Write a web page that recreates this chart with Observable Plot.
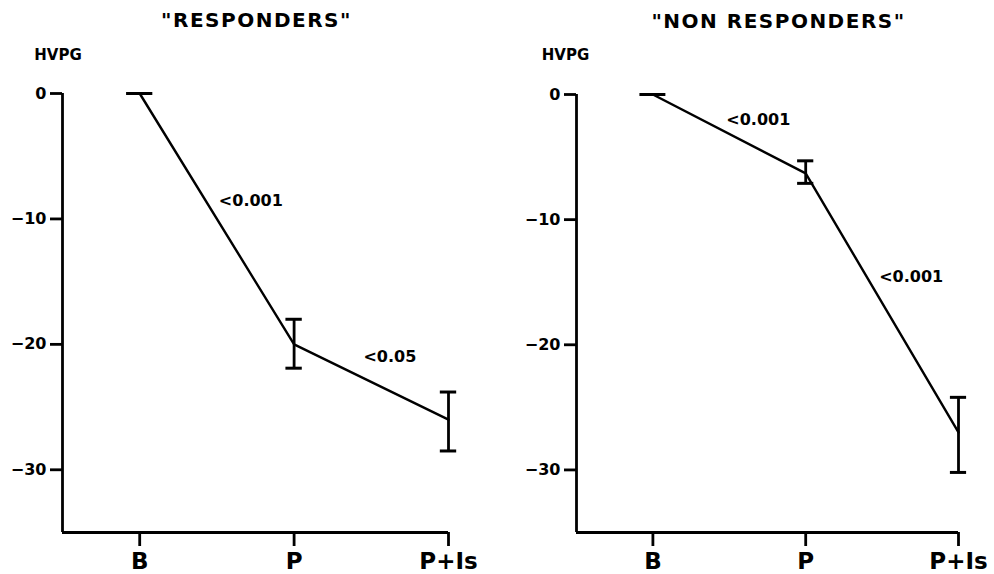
<!DOCTYPE html>
<html><head><meta charset="utf-8">
<script src="https://cdn.jsdelivr.net/npm/d3@7"></script>
<script src="https://cdn.jsdelivr.net/npm/@observablehq/plot@0.6"></script>
<style>
body{margin:0;background:#fff;}
#wrap{position:relative;width:994px;height:574px;overflow:hidden;background:#fff;}
#wrap > div{position:absolute;top:0;}
</style></head><body>
<div id="wrap"><div id="left" style="left:0px"></div><div id="right" style="left:497px"></div></div>
<script>
const categories = ["B", "P", "P+Is"];
const yTicks = [0, -10, -20, -30];

const respondersMean = [0, -20.0, -26.0];
const respondersHigh = [0, -18.0, -23.8];
const respondersLow  = [0, -21.9, -28.5];

const nonRespondersMean = [0, -6.3, -27.0];
const nonRespondersHigh = [0, -5.3, -24.2];
const nonRespondersLow  = [0, -7.1, -30.2];

const respondersPLabels = ["<0.001", "<0.05"];
const respondersPLabelX = [1.72, 2.62];
const respondersPLabelY = [-8.6, -21.0];

const nonRespondersPLabels = ["<0.001", "<0.001"];
const nonRespondersPLabelX = [1.69, 2.69];
const nonRespondersPLabelY = [-2.0, -14.6];

function table(means, highs, lows) {
  return categories.map((c, i) => ({cat: c, i: i + 1, mean: means[i], hi: highs[i], lo: lows[i]}));
}
function labelTable(texts, xs, ys) {
  return texts.map((t, i) => ({text: t, x: xs[i], y: ys[i]}));
}

function panel({title, data, labels, marginLeft, marginRight, marginTop, titleDx, hvpgDx, hvpgDy}) {
  const height = 574, marginBottom = 42;
  const capHalf = d => (d.hi === d.lo ? 0.085 : 0.053);
  const caps = data.flatMap(d => d.hi === d.lo ? [{i: d.i, v: d.mean, w: capHalf(d)}] :
    [{i: d.i, v: d.hi, w: capHalf(d)}, {i: d.i, v: d.lo, w: capHalf(d)}]);
  return Plot.plot({
    width: 497, height, marginLeft, marginRight, marginTop, marginBottom,
    style: {fontFamily: "DejaVu Sans", fontWeight: "bold", color: "black", background: "white", overflow: "visible"},
    x: {type: "linear", domain: [0.5, 3], axis: null},
    y: {domain: [-35, 0], axis: null},
    marks: [
      Plot.axisY({ticks: yTicks, tickSize: 12, tickPadding: 4, strokeWidth: 2.8, fontSize: 16, label: null, tickFormat: d => d === 0 ? "0" : "−" + Math.abs(d)}),
      Plot.axisX({ticks: [1, 2, 3], tickFormat: i => categories[i - 1], tickSize: 14, tickPadding: 6, strokeWidth: 2.8, fontSize: 23, label: null}),
      Plot.ruleX([0.5], {y1: -35, y2: 0, strokeWidth: 2.8}),
      Plot.ruleY([-35], {x1: 0.5, x2: 3, strokeWidth: 2.8}),
      Plot.ruleX(data.filter(d => d.hi !== d.lo), {x: "i", y1: "lo", y2: "hi", strokeWidth: 2.8}),
      Plot.ruleY(caps, {y: "v", x1: d => d.i - d.w, x2: d => d.i + d.w, strokeWidth: 3}),
      Plot.line(data, {x: "i", y: "mean", strokeWidth: 2.4}),
      Plot.text(labels, {x: "x", y: "y", text: "text", fontSize: 16}),
      Plot.text([title], {frameAnchor: "top", lineAnchor: "middle", dy: -73, dx: titleDx, fontSize: 20, text: d => d}),
      Plot.text(["HVPG"], {frameAnchor: "top-left", lineAnchor: "middle", dx: hvpgDx, dy: hvpgDy, textAnchor: "middle", fontSize: 15, text: d => d})
    ]
  });
}

const left = panel({
  title: "\"RESPONDERS\"",
  data: table(respondersMean, respondersHigh, respondersLow),
  labels: labelTable(respondersPLabels, respondersPLabelX, respondersPLabelY),
  marginLeft: 62, marginRight: 49, marginTop: 93, titleDx: 1, hvpgDx: -4.5, hvpgDy: -38
});
const right = panel({
  title: "\"NON RESPONDERS\"",
  data: table(nonRespondersMean, nonRespondersHigh, nonRespondersLow),
  labels: labelTable(nonRespondersPLabels, nonRespondersPLabelX, nonRespondersPLabelY),
  marginLeft: 79, marginRight: 36, marginTop: 94, titleDx: 11, hvpgDx: -11, hvpgDy: -39
});
for (const svg of [left, right]) {
  d3.select(svg).selectAll("text")
    .filter(function() { return this.textContent.includes("RESPONDERS"); })
    .attr("letter-spacing", "1.5px");
}
document.getElementById("left").appendChild(left);
document.getElementById("right").appendChild(right);
</script>
</body></html>
